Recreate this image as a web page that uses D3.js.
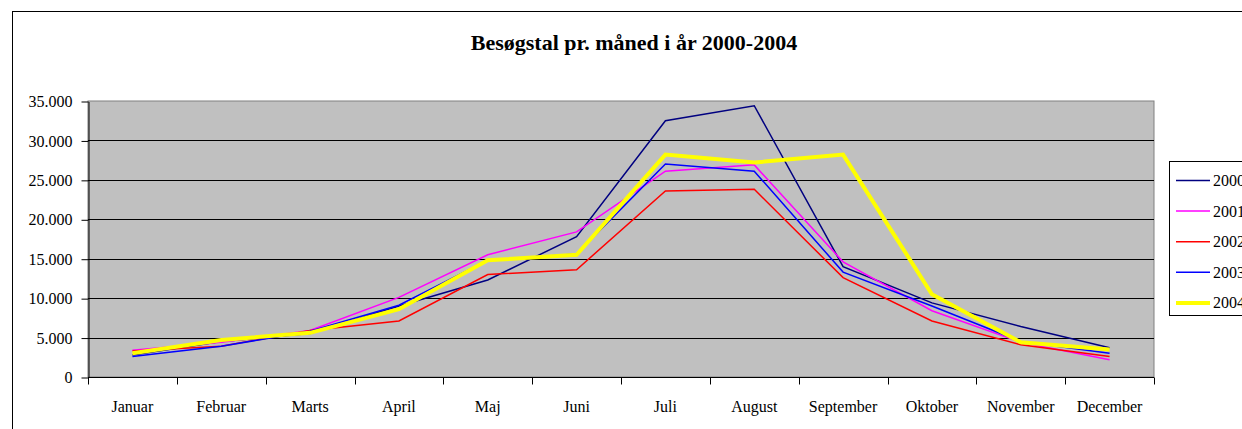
<!DOCTYPE html>
<html>
<head>
<meta charset="utf-8">
<script src="https://cdn.jsdelivr.net/npm/d3@7"></script>
<style>
  body { margin: 0; background: #fff; }
  svg text { font-family: "Liberation Serif", "Times New Roman", serif; }
</style>
</head>
<body>
<script>
// Data
const months = ["Januar", "Februar", "Marts", "April", "Maj", "Juni", "Juli", "August", "September", "Oktober", "November", "December"];
const years = ["2000", "2001", "2002", "2003", "2004"];
const v2000 = [2800, 4500, 5500, 9000, 12300, 17800, 32500, 34400, 14000, 9400, 6400, 3700];
const v2001 = [3400, 4400, 5900, 10100, 15500, 18400, 26100, 26900, 14600, 8400, 4400, 2200];
const v2002 = [3300, 3900, 5900, 7100, 13000, 13600, 23600, 23800, 12600, 7100, 4100, 2600];
const v2003 = [2600, 3900, 5800, 9100, 14800, 15600, 27000, 26100, 13300, 9000, 4500, 3000];
const v2004 = [3000, 4700, 5600, 8600, 14800, 15500, 28200, 27200, 28200, 10500, 4400, 3500];
const yTicks = [0, 5000, 10000, 15000, 20000, 25000, 30000, 35000];

const colors = ["#000080", "#FF00FF", "#FF0000", "#0000FF", "#FFFF00"];
const widths = [1.5, 1.5, 1.5, 1.5, 4];
const series = [v2000, v2001, v2002, v2003, v2004];

const W = 1242, H = 429;
const serif = "'Liberation Serif', 'Times New Roman', serif";
const svg = d3.select("body").append("svg")
    .attr("width", W)
    .attr("height", H)
    .attr("font-family", serif);

// ramme
svg.append("rect")
    .attr("x", 12.5).attr("y", 11.5)
    .attr("width", 1300).attr("height", 500)
    .attr("fill", "#fff")
    .attr("stroke", "#000");

svg.append("text")
    .attr("x", 634).attr("y", 50)
    .attr("text-anchor", "middle")
    .attr("font-size", 22)
    .attr("font-weight", "bold")
    .text("Besøgstal pr. måned i år 2000-2004");

const m = { left: 88, right: 1154, top: 101, bottom: 377 };

const x = d3.scaleBand().domain(months).range([m.left, m.right]);
const y = d3.scaleLinear().domain([0, 35000]).range([m.bottom, m.top]);

// plotområde
svg.append("rect")
    .attr("x", m.left).attr("y", m.top)
    .attr("width", m.right - m.left).attr("height", m.bottom - m.top)
    .attr("fill", "#C0C0C0")
    .attr("stroke", "#808080");

// gitterlinjer
svg.selectAll(".grid")
    .data(yTicks.slice(1, -1))
    .enter().append("line")
    .attr("x1", m.left).attr("x2", m.right)
    .attr("y1", d => Math.round(y(d)) + 0.5)
    .attr("y2", d => Math.round(y(d)) + 0.5)
    .attr("stroke", "#000");

const nf = d3.formatLocale({ decimal: ",", thousands: ".", grouping: [3], currency: ["", ""] }).format(",");

// y-akse
const yAxis = svg.append("g")
    .attr("transform", "translate(" + (m.left + 0.5) + ",0.5)")
    .call(d3.axisLeft(y).tickValues(yTicks).tickFormat(nf).tickSize(7).tickPadding(9).tickSizeOuter(0))
    .attr("font-family", serif)
    .attr("font-size", 16);
yAxis.select(".domain").attr("stroke", "#000");
yAxis.selectAll("text").attr("fill", "#000");

// x-akse
const xAxis = svg.append("g")
    .attr("transform", "translate(0," + (m.bottom + 0.5) + ")");
xAxis.append("line")
    .attr("x1", m.left).attr("x2", m.right)
    .attr("stroke", "#000");
xAxis.selectAll(".tick")
    .data(months.concat(["end"]))
    .enter().append("line")
    .attr("x1", (d, i) => Math.round(i < 12 ? x(d) : m.right) + 0.5)
    .attr("x2", (d, i) => Math.round(i < 12 ? x(d) : m.right) + 0.5)
    .attr("y1", 0).attr("y2", 7)
    .attr("stroke", "#000");
xAxis.selectAll(".lbl")
    .data(months)
    .enter().append("text")
    .attr("x", d => x(d) + x.bandwidth() / 2)
    .attr("y", 34)
    .attr("text-anchor", "middle")
    .attr("font-size", 16)
    .text(d => d);

// linjer
const line = d3.line()
    .x((d, i) => x(months[i]) + x.bandwidth() / 2)
    .y(d => y(d));

svg.selectAll(".serie")
    .data(series)
    .enter().append("path")
    .attr("fill", "none")
    .attr("stroke", (d, i) => colors[i])
    .attr("stroke-width", (d, i) => widths[i])
    .attr("stroke-linejoin", "miter")
    .attr("d", line);

// forklaring (skåret af i kanten som i originalen)
const lg = svg.append("g");
lg.append("rect")
    .attr("x", 1169.5).attr("y", 161.5)
    .attr("width", 120).attr("height", 154)
    .attr("fill", "#fff")
    .attr("stroke", "#000");
years.forEach((yr, i) => {
    const cy = 180.5 + i * 30.6;
    lg.append("line")
        .attr("x1", 1176).attr("x2", 1210)
        .attr("y1", cy).attr("y2", cy)
        .attr("stroke", colors[i])
        .attr("stroke-width", widths[i]);
    lg.append("text")
        .attr("x", 1213).attr("y", cy + 5.5)
        .attr("font-size", 16)
        .text(yr);
});
</script>
</body>
</html>
